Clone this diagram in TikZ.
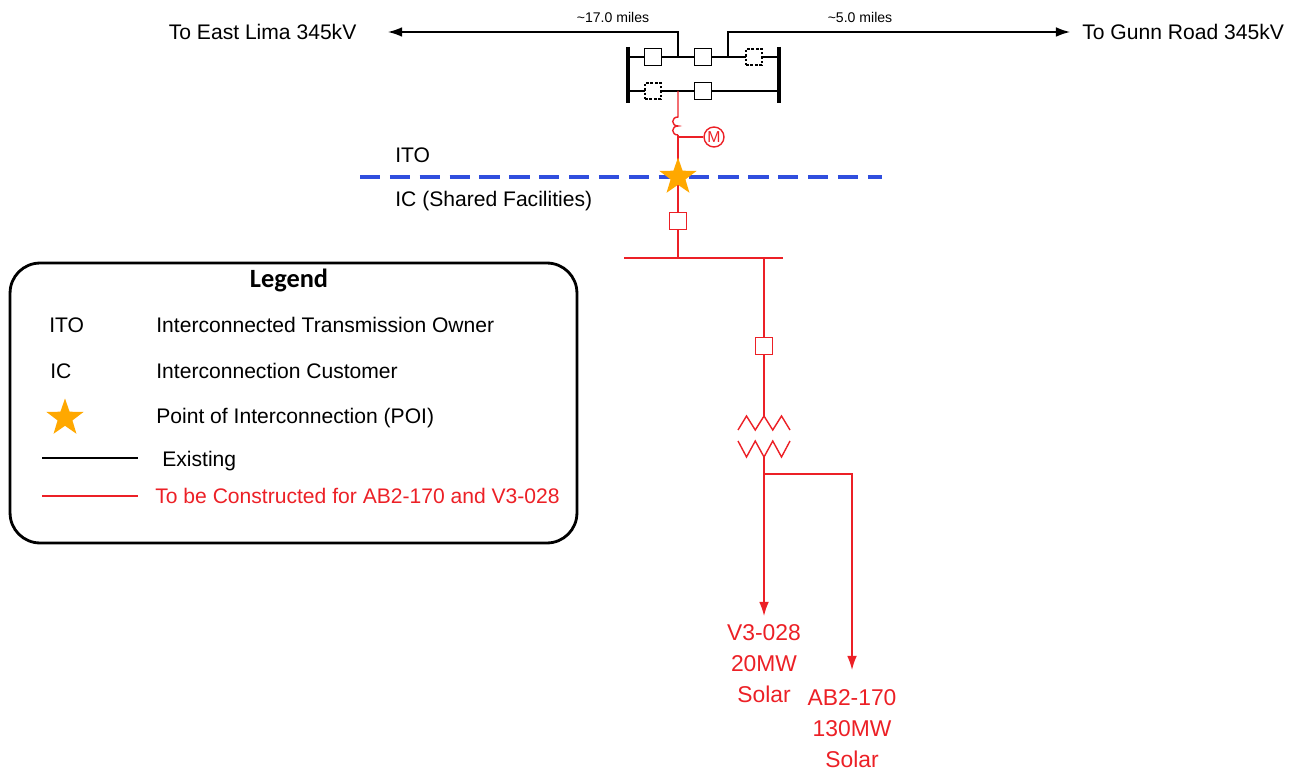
\documentclass[tikz,border=0pt]{standalone}
\usepackage{fontspec}
\setmainfont{Liberation Sans}
\newfontfamily\legendfamily{Carlito}
\usepackage{tikz}
\usetikzlibrary{calc, shapes, arrows, arrows.meta}
\usepackage{color}
\definecolor{newred}{RGB}{236,32,38}
\definecolor{itoblue}{RGB}{48,78,222}
\definecolor{poiorange}{RGB}{255,168,0}

\begin{document}
\begin{tikzpicture}[x=0.02cm, y=-0.02cm,
  breaker/.style={draw, line width=0.8pt, minimum size=0.33cm, inner sep=0pt, fill=white},
  sparebreaker/.style={breaker, line width=1.1pt, dash pattern=on 1.6pt off 1pt},
  newbreaker/.style={breaker, draw=newred},
  busbar/.style={line width=2.2pt},
  existing/.style={line width=0.8pt},
  newline/.style={line width=0.8pt, draw=newred},
  arrowtip/.style={-{Latex[length=8pt, width=5.5pt]}},
  poistar/.style={star, star points=5, star point ratio=2.5, fill=poiorange, inner sep=0pt, minimum size=0.78cm},
  txt/.style={inner sep=0pt, font=\fontsize{12}{14}\selectfont},
  milestxt/.style={inner sep=0pt, font=\fontsize{8}{10}\selectfont},
  sollabel/.style={inner sep=0pt, align=center, anchor=north, text=newred, font=\fontsize{13}{17.6}\selectfont}
  ]
\useasboundingbox (0,0) rectangle (1307,770);
%Lines to the remote stations
\node [txt, anchor=east, outer xsep=18pt] (eastlima) at (388,32) {To East Lima 345kV};
\node [txt, anchor=west, outer xsep=7pt] (gunn) at (1070,32) {To Gunn Road 345kV};
\node [milestxt] (miles1) at (613,17) {\textasciitilde 17.0 miles};
\node [milestxt] (miles2) at (860,17) {\textasciitilde 5.0 miles};
%Bus bars of the ring
\coordinate (bl1) at (628,47);
\coordinate (bl2) at (628,103);
\coordinate (br1) at (779,47);
\coordinate (br2) at (779,103);
\draw [busbar] (bl1) -- (bl2);
\draw [busbar] (br1) -- (br2);
%Upper row
\coordinate (up0) at (628,57);
\coordinate (up1) at (779,57);
\coordinate (j1) at (678,57);
\coordinate (j2) at (728,57);
\draw [existing] (up0) -- (up1);
\node [breaker] (cb1) at (653,57) {};
\node [breaker] (cb2) at (703,57) {};
\node [sparebreaker] (cb3) at (754,57) {};
%Lower row
\coordinate (lo0) at (628,91);
\coordinate (lo1) at (779,91);
\coordinate (j3) at (678,91);
\draw [existing] (lo0) -- (lo1);
\node [sparebreaker] (cb4) at (653,91) {};
\node [breaker] (cb5) at (703,91) {};
\draw [existing, arrowtip] (j1) |- (eastlima.east);
\draw [existing, arrowtip] (j2) |- (gunn.west);
%Tap to the new station
\coordinate (cttop) at (678,117);
\coordinate (ctbot) at (678,135);
\node [circle, draw=newred, line width=0.8pt, inner sep=0pt, minimum size=0.4cm, text=newred,
  font=\fontsize{9}{10}\selectfont] (meter) at (714,137) {M};
\draw [newline] (j3) -- (cttop) .. controls (671,117) and (671,126) .. (678,126)
  .. controls (671,126) and (671,135) .. (ctbot);
\draw [newline] (ctbot) |- (meter);
%Ownership boundary
\coordinate (bnd0) at (360,177);
\coordinate (bnd1) at (882,177);
\draw [itoblue, line width=2pt, dash pattern=on 11.5pt off 5.5pt] (bnd0) -- (bnd1);
\node [txt, anchor=west] (itotxt) at (395,155) {ITO};
\node [txt, anchor=west] (ictxt) at (395,201) {IC (Shared Facilities)};
\node [newbreaker] (cb6) at (678,221) {};
\coordinate (rb0) at (624,258);
\coordinate (rb1) at (783,258);
\coordinate (tapbus) at (678,258);
\draw [newline] (ctbot) -- (cb6) -- (tapbus);
\node [poistar] (poi) at (678,177) {};
\draw [newline, line width=1.2pt] (rb0) -- (rb1);
%Feeder to the solar sites
\coordinate (fd) at (764,258);
\node [newbreaker] (cb7) at (764,346) {};
\coordinate (xftop) at (764,416);
\coordinate (xfbot) at (764,457);
\coordinate (tap) at (764,474);
\draw [newline] (fd) -- (cb7) -- (xftop);
\draw [newline] (738,430) -- (746.5,416) -- (755.25,430) -- (xftop) -- (772.75,430) -- (781.5,416) -- (790,430);
\draw [newline] (738,441) -- (746.5,457) -- (755.25,441) -- (xfbot) -- (772.75,441) -- (781.5,457) -- (790,441);
\node [sollabel, outer ysep=5pt] (v3) at (764,616) {V3-028\\20MW\\Solar};
\node [sollabel, outer ysep=11pt] (ab2) at (852,670) {AB2-170\\130MW\\Solar};
\draw [newline, arrowtip] (xfbot) -- (v3.north);
\draw [newline, arrowtip] (tap) -| (ab2.north);
%Legend
\node [draw, line width=1.6pt, rounded corners=0.6cm, minimum width=11.34cm, minimum height=5.6cm] (legend) at (293.5,403) {};
\node [font=\legendfamily\bfseries\fontsize{15}{18}\selectfont, inner sep=0pt] (legendhead) at (289,280) {Legend};
\node [txt, anchor=west] (key1) at (49,325) {ITO};
\node [txt, anchor=west] (val1) at (156,325) {Interconnected Transmission Owner};
\node [txt, anchor=west] (key2) at (50,371) {IC};
\node [txt, anchor=west] (val2) at (156,371) {Interconnection Customer};
\node [poistar] (key3) at (65,418) {};
\node [txt, anchor=west] (val3) at (156,418) {Point of Interconnection (POI)};
\coordinate (key4a) at (42,458);
\coordinate (key4b) at (138,458);
\draw [existing, line width=1.2pt] (key4a) -- (key4b);
\node [txt, anchor=west] (val4) at (162,461) {Existing};
\coordinate (key5a) at (42,496);
\coordinate (key5b) at (138,496);
\draw [newline, line width=1.4pt] (key5a) -- (key5b);
\node [txt, anchor=west, text=newred] (val5) at (155,496) {To be Constructed for AB2-170 and V3-028};
\end{tikzpicture}
\end{document}
